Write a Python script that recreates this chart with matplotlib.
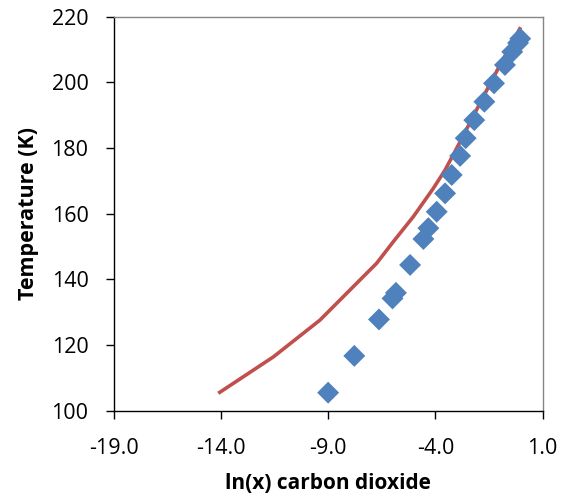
import matplotlib
matplotlib.use("Agg")
import matplotlib.pyplot as plt

# experimental points (diamonds)
exp_lnx = [-9.0, -7.78, -6.63, -6.0, -5.84, -5.18, -4.56, -4.33, -3.94, -3.55, -3.24,
           -2.85, -2.59, -2.19, -1.72, -1.27, -0.76, -0.42, -0.15, -0.05]
exp_T = [105.5, 116.7, 127.8, 134.2, 135.9, 144.4, 152.3, 155.6, 160.6, 166.2, 171.8,
         177.6, 183.0, 188.5, 194.1, 199.7, 205.3, 209.3, 212.0, 213.3]

# model curve
model_lnx = [-14.12, -11.55, -9.38, -8.13, -6.74, -5.96, -5.03, -4.10, -3.55, -2.85, -1.77, -0.99, -0.03]
model_T = [105.3, 116.4, 127.6, 135.8, 144.9, 151.5, 159.1, 167.7, 173.3, 181.9, 195.6, 205.3, 216.8]

xticks = [-19.0, -14.0, -9.0, -4.0, 1.0]
yticks = [100, 120, 140, 160, 180, 200, 220]

plt.rcParams['font.family'] = ['Open Sans', 'DejaVu Sans']

fig = plt.figure(figsize=(5.67, 5.01), dpi=100)
ax = fig.add_axes([0.2002, 0.1802, 0.757, 0.7865])

ax.plot(model_lnx, model_T, color='#C0504D', lw=2.6, zorder=2, solid_capstyle='butt')
ax.scatter(exp_lnx, exp_T, marker='D', s=125, color='#4F81BD', edgecolors='none', zorder=3)

ax.set_xlim(-19, 1)
ax.set_ylim(100, 220)
ax.set_xticks(xticks)
ax.set_xticklabels([f"{v:.1f}" for v in xticks])
ax.set_yticks(yticks)
ax.set_yticklabels([str(v) for v in yticks])

for s in ax.spines.values():
    s.set_color('#868686')
    s.set_linewidth(1.0)
ax.spines['left'].set_color('#000000')
ax.spines['bottom'].set_color('#000000')
ax.tick_params(axis='both', direction='out', length=6, width=1, colors='#000000',
               labelsize=15.5)
ax.tick_params(axis='y', pad=12)
ax.tick_params(axis='x', pad=14)

ax.set_xlabel('ln(x) carbon dioxide', fontsize=15, fontweight='bold', labelpad=10)
ax.set_ylabel('Temperature (K)', fontsize=15.5, fontweight='bold', labelpad=9)

fig.savefig('out.png', dpi=100)
